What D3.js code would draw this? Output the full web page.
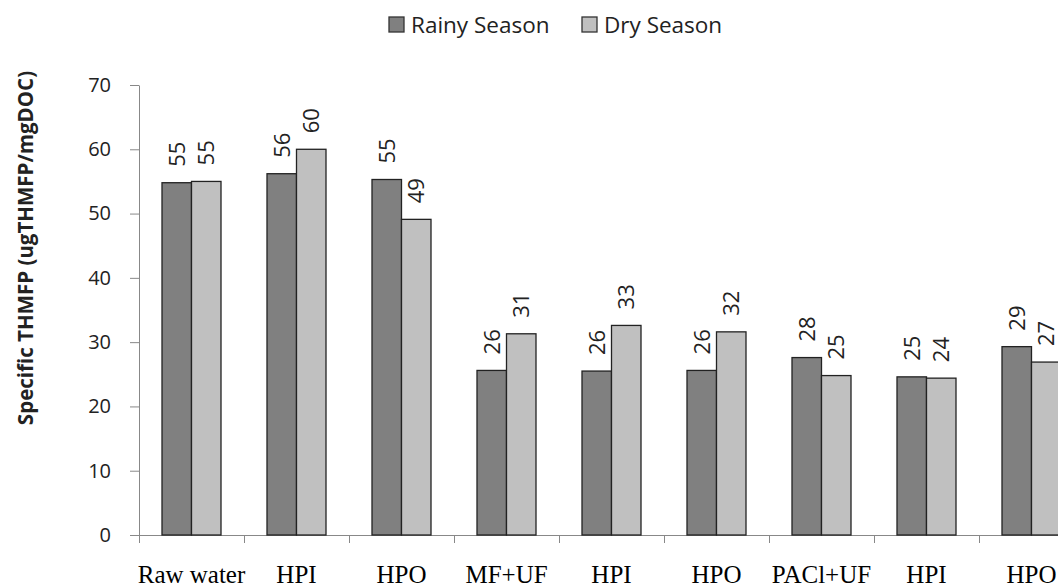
<!DOCTYPE html>
<html>
<head>
<meta charset="utf-8">
<script src="https://cdn.jsdelivr.net/npm/d3@7"></script>
<style>
  body { margin: 0; background: #fff; }
  svg { display: block; }
</style>
</head>
<body>
<div id="chart"></div>
<script>
const width = 1058;
const height = 584;

// data
const categories = ["Raw water", "HPI", "HPO", "MF+UF", "HPI", "HPO", "PACl+UF", "HPI", "HPO"];
const series = ["Rainy Season", "Dry Season"];
const rainy = [54.8, 56.2, 55.3, 25.6, 25.5, 25.6, 27.6, 24.6, 29.3];
const dry = [55.0, 60.0, 49.1, 31.3, 32.6, 31.6, 24.8, 24.4, 26.9];
const yTicks = [0, 10, 20, 30, 40, 50, 60, 70];
const fills = ["#808080", "#c0c0c0"];

const rows = categories.map((c, i) => ({ idx: i, name: c, values: [rainy[i], dry[i]] }));

const svg = d3.select("#chart")
  .append("svg")
  .attr("width", width)
  .attr("height", height);

// plot runs off the right edge, like the reference
const x0 = d3.scaleBand().domain(d3.range(categories.length)).range([139, 139 + 9 * 105]);
const x1 = d3.scaleBand().domain([0, 1]).range([23, 82]);
const xEdges = d3.scaleLinear().domain([0, categories.length]).range(x0.range());
const y = d3.scaleLinear().domain([0, 70]).range([535, 85]);

const axisColor = "#888";

// y axis
const yAxis = svg.append("g")
  .attr("transform", "translate(139,0)")
  .call(d3.axisLeft(y).tickValues(yTicks).tickSize(9).tickPadding(19).tickSizeOuter(0));
yAxis.select(".domain").attr("stroke", axisColor);
yAxis.selectAll(".tick line").attr("stroke", axisColor);
yAxis.selectAll("text")
  .attr("font-family", "Open Sans")
  .attr("font-size", 20)
  .attr("fill", "#222");

// x axis: boundary ticks
const xAxis = svg.append("g")
  .attr("transform", "translate(0,535)")
  .call(d3.axisBottom(xEdges).tickValues(d3.range(categories.length + 1)).tickFormat("").tickSize(8).tickSizeOuter(0));
xAxis.select(".domain").attr("stroke", axisColor);
xAxis.selectAll(".tick line").attr("stroke", axisColor);

// x axis: category labels
const xLabels = svg.append("g")
  .attr("transform", "translate(0,535)")
  .call(d3.axisBottom(x0).tickFormat(i => categories[i]).tickSize(0).tickPadding(0));
xLabels.select(".domain").remove();
xLabels.selectAll("text")
  .attr("dy", null)
  .attr("y", 48)
  .attr("font-family", "Liberation Serif")
  .attr("font-size", 25)
  .attr("fill", "#000");

// bars
const groups = svg.append("g")
  .selectAll("g")
  .data(rows)
  .enter()
  .append("g")
  .attr("transform", d => "translate(" + x0(d.idx) + ",0)");

groups.selectAll("rect")
  .data(d => d.values.map((v, s) => ({ s: s, v: v })))
  .enter()
  .append("rect")
  .attr("x", d => x1(d.s))
  .attr("width", x1.bandwidth())
  .attr("y", d => y(d.v))
  .attr("height", d => y(0) - y(d.v))
  .attr("fill", d => fills[d.s])
  .attr("stroke", "#222")
  .attr("stroke-width", 1.3);

// rotated value labels
groups.selectAll("text.val")
  .data(d => d.values.map((v, s) => ({ s: s, v: v })))
  .enter()
  .append("text")
  .attr("class", "val")
  .attr("transform", d => "translate(" + (x1(d.s) + x1.bandwidth() / 2) + "," + (y(d.v) - 16) + ") rotate(-90)")
  .attr("dy", "0.36em")
  .attr("font-family", "Open Sans")
  .attr("font-size", 22)
  .attr("fill", "#222")
  .text(d => Math.round(d.v));

// y axis title
svg.append("text")
  .attr("transform", "translate(26,248) rotate(-90)")
  .attr("text-anchor", "middle")
  .attr("dy", "0.35em")
  .attr("font-family", "Open Sans")
  .attr("font-weight", "bold")
  .attr("font-size", 20.5)
  .attr("fill", "#222")
  .text("Specific THMFP (ugTHMFP/mgDOC)");

// legend
const legendX = [389, 582];
const legend = svg.append("g")
  .selectAll("g")
  .data(series)
  .enter()
  .append("g")
  .attr("transform", (d, i) => "translate(" + legendX[i] + ",17)");

legend.append("rect")
  .attr("width", 15)
  .attr("height", 15)
  .attr("fill", (d, i) => fills[i])
  .attr("stroke", "#333")
  .attr("stroke-width", 1.3);

legend.append("text")
  .attr("x", 22)
  .attr("y", 8)
  .attr("dy", "0.35em")
  .attr("font-family", "Open Sans")
  .attr("font-size", 22.5)
  .attr("fill", "#222")
  .text(d => d);
</script>
</body>
</html>
